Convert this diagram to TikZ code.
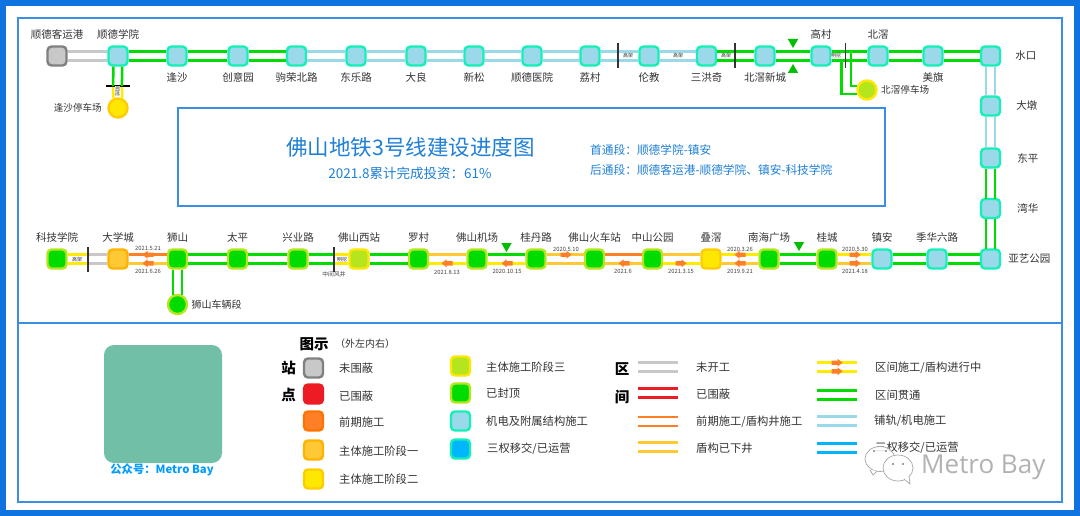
\documentclass[tikz,border=0pt]{standalone}
\usepackage{fontspec}
\setmainfont{Noto Sans CJK SC}
\newfontfamily\markfont{Open Sans}
\usepackage{tikz}
\usetikzlibrary{shapes.geometric}
\definecolor{frameblue}{HTML}{0F73E0}
\definecolor{boxblue}{HTML}{3A8EE6}
\definecolor{titleblue}{HTML}{1E80D6}
\definecolor{lnGrey}{HTML}{C8C8C8}
\definecolor{lnRed}{HTML}{ED1C24}
\definecolor{lnOrange}{HTML}{FF7F27}
\definecolor{lnAmber}{HTML}{FFC935}
\definecolor{lnYellow}{HTML}{FFEA00}
\definecolor{lnGreen}{HTML}{00DC00}
\definecolor{lnPale}{HTML}{99D9EA}
\definecolor{lnSky}{HTML}{00B7FF}
\definecolor{rimMint}{HTML}{14F0B8}
\definecolor{rimLime}{HTML}{B5E61D}
\definecolor{codeBox}{HTML}{72BFA8}
\tikzset{
  stn/.style={draw, rounded corners=4pt, line width=2.4pt, minimum size=19pt, inner sep=0pt},
  stGrey/.style={stn, fill=lnGrey, draw=black!50},
  stRed/.style={stn, fill=lnRed, draw=lnRed},
  stOrange/.style={stn, fill=lnOrange, draw=orange!90!red},
  stAmber/.style={stn, fill=lnAmber, draw=orange!60!yellow},
  stYellow/.style={stn, fill=yellow!95!red, draw=orange!40!yellow},
  stLime/.style={stn, fill=rimLime, draw=yellow!95!red},
  stGreen/.style={stn, fill=lnGreen, draw=rimLime},
  stPale/.style={stn, fill=lnPale, draw=rimMint},
  stSky/.style={stn, fill=lnSky, draw=rimMint},
  depot/.style={circle, draw, line width=2.4pt, minimum size=19pt, inner sep=0pt},
  every label/.style={font=\fontsize{10.5}{12}\selectfont, text=black!80, inner sep=0pt},
  label distance=6pt,
  lgtext/.style={font=\fontsize{11.3}{13}\selectfont, text=black!80, inner sep=0pt, anchor=west},
  head/.style={font=\fontsize{14.5}{16}\selectfont\bfseries, inner sep=0pt},
  datum/.style={font=\fontsize{5.8}{7}\selectfont, text=black!75, inner sep=0pt},
  mini/.style={font=\fontsize{5}{6}\selectfont, text=black!80, fill=white, inner sep=.5pt},
  minirot/.style={mini, rotate=-90},
  pipe/.style={line width=2.5pt},
  cutbar/.style={fill=black!80, inner sep=0pt, minimum width=1.5pt, minimum height=25pt},
  cutflat/.style={fill=black, inner sep=0pt, minimum width=24pt, minimum height=1.5pt},
  marker/.style={regular polygon, regular polygon sides=3, fill=green!75!black, inner sep=0pt, minimum size=12pt},
  markerD/.style={marker, shape border rotate=180},
}
\def\hpair#1#2#3#4{
  \draw[pipe,#1,transform canvas={yshift=4.3pt}] (#3) -- (#4);
  \draw[pipe,#2,transform canvas={yshift=-4.3pt}] (#3) -- (#4);}
\def\vpair#1#2#3{
  \draw[pipe,#1,shorten >=-1pt,transform canvas={xshift=-4.4pt}] (#2) -- (#3);
  \draw[pipe,#1,shorten >=-1pt,transform canvas={xshift=4.4pt}] (#2) -- (#3);}
\def\sample#1#2#3#4{
  \coordinate (#1a) at (#3,#4);
  \coordinate (#1b) at (#3+40,#4);
  \hpair{#2}{#2}{#1a}{#1b}}
% direction (1 right, -1 left), then x and y
\def\shield#1#2#3{
  \fill[lnOrange, shift={(#2,#3)}, xscale=#1] (-5.5,-2.2) -- (0.5,-2.2) -- (0.5,-4) -- (5.5,0)
    -- (0.5,4) -- (0.5,2.2) -- (-5.5,2.2) -- cycle;}
\begin{document}
\begin{tikzpicture}[x=1pt,y=-1pt]
\useasboundingbox (0,0) rectangle (1080,516);
\fill[white] (0,0) rectangle (1080,516);
\draw[frameblue, line width=6pt] (3,3) rectangle (1077,513);
\draw[boxblue, line width=1.4pt] (18,18) rectangle (1062,502);
\draw[boxblue, line width=1.4pt] (18,323) -- (1062,323);
\draw[boxblue, line width=1.4pt] (178,108) rectangle (885,206);

% title box
\node[font=\fontsize{21.5}{24}\selectfont, text=titleblue, inner sep=0pt] (title) at (410.5,147) {佛山地铁3号线建设进度图};
\node[font=\fontsize{13.5}{15}\selectfont, text=titleblue, inner sep=0pt] (invest) at (410,173) {2021.8累计完成投资：61\%};
\node[font=\fontsize{11.7}{13}\selectfont, text=titleblue, inner sep=0pt, anchor=west] (first) at (590,150) {首通段：顺德学院-镇安};
\node[font=\fontsize{11.7}{13}\selectfont, text=titleblue, inner sep=0pt, anchor=west] (later) at (590,170) {后通段：顺德客运港-顺德学院、镇安-科技学院};

% upper row
\node[stGrey, label=above:顺德客运港] (kyg) at (57,56) {};
\node[stPale, label=above:顺德学院] (sdxy) at (118,56) {};
\node[stPale, label=below:逢沙] (fs) at (177,56) {};
\node[stPale, label=below:创意园] (cyy) at (238,56) {};
\node[stPale, label=below:驹荣北路] (jrbl) at (296.5,56) {};
\node[stPale, label=below:东乐路] (dll) at (356,56) {};
\node[stPale, label=below:大良] (dl) at (416,56) {};
\node[stPale, label=below:新松] (xs) at (474,56) {};
\node[stPale, label=below:顺德医院] (sdyy) at (532,56) {};
\node[stPale, label=below:荔村] (lc) at (590,56) {};
\node[stPale, label=below:伦教] (lj) at (649,56) {};
\node[stPale, label=below:三洪奇] (shq) at (706.5,56) {};
\node[stPale, label=below:北滘新城] (bjxc) at (765,56) {};
\node[stPale, label=above:高村] (gc) at (821,56) {};
\node[stPale, label=above:北滘] (bj) at (878,56) {};
\node[stPale, label=below:美旗] (mq) at (933,56) {};

% right column
\node[stPale, label={[label distance=14pt]right:水口}] (sk) at (990.5,56) {};
\node[stPale, label={[label distance=15pt]right:大墩}] (dd) at (990.5,106) {};
\node[stPale, label={[label distance=16pt]right:东平}] (dp) at (990.5,158) {};
\node[stPale, label={[label distance=16pt]right:湾华}] (wh) at (990.5,208.5) {};
\node[stPale, label={[label distance=7pt]right:亚艺公园}] (yy) at (990.5,259) {};

% lower row
\node[stPale, label=above:季华六路] (jh) at (937,259) {};
\node[stPale, label=above:镇安] (za) at (882,259) {};
\node[stGreen, label=above:桂城] (gcc) at (827,259) {};
\node[stGreen, label=above:南海广场] (nh) at (769,259) {};
\node[stYellow, label=above:叠滘] (dj) at (711,259) {};
\node[stGreen, label=above:中山公园] (zs) at (652.5,259) {};
\node[stGreen, label=above:佛山火车站] (hcz) at (594.5,259) {};
\node[stGreen, label=above:桂丹路] (gdl) at (536,259) {};
\node[stGreen, label=above:佛山机场] (jc) at (477,259) {};
\node[stGreen, label=above:罗村] (lcc) at (418.5,259) {};
\node[stLime, label=above:佛山西站] (fsxz) at (359,259) {};
\node[stGreen, label=above:兴业路] (xyl) at (298,259) {};
\node[stGreen, label=above:太平] (tp) at (237.5,259) {};
\node[stGreen, label=above:狮山] (ss) at (177.5,259) {};
\node[stAmber, label=above:大学城] (dxc) at (118,259) {};
\node[stGreen, label=above:科技学院] (kj) at (57,259) {};

% depots
\node[depot, fill=yellow!95!red, draw=orange!40!yellow] (fstc) at (118,108) {};
\node[depot, fill=rimLime, draw=yellow!95!red] (bjtc) at (867,90) {};
\node[depot, fill=lnGreen, draw=rimLime] (sscl) at (177.5,304.5) {};
\node[font=\fontsize{9.6}{11}\selectfont, text=black!80, inner sep=0pt, anchor=east] (fstct) at (102,108) {逢沙停车场};
\node[font=\fontsize{9.6}{11}\selectfont, text=black!80, inner sep=0pt, anchor=west] (bjtct) at (881,90) {北滘停车场};
\node[font=\fontsize{10}{12}\selectfont, text=black!80, inner sep=0pt, anchor=west] (ssclt) at (191.5,305) {狮山车辆段};

% cuts next to a change of section
\node[cutflat] (cut6) at (117.5,86) {};
\node[cutbar] (cut4) at (88,259) {};
\node[cutbar] (cut5) at (334,259) {};

% sections, upper row
\hpair{lnGrey}{lnGrey}{kyg}{sdxy}
\hpair{lnGreen}{lnGreen}{sdxy}{fs}
\hpair{lnGreen}{lnGreen}{fs}{cyy}
\hpair{lnGreen}{lnGreen}{cyy}{jrbl}
\hpair{lnPale}{lnPale}{jrbl}{dll}
\hpair{lnPale}{lnPale}{dll}{dl}
\hpair{lnPale}{lnPale}{dl}{xs}
\hpair{lnPale}{lnPale}{xs}{sdyy}
\hpair{lnPale}{lnPale}{sdyy}{lc}
\hpair{lnPale}{lnPale}{lc}{lj}
\hpair{lnPale}{lnPale}{lj}{shq}
\hpair{lnGreen}{lnGreen}{shq}{bjxc}
\hpair{lnGreen}{lnGreen}{bjxc}{gc}
\hpair{lnGreen}{lnGreen}{gc}{bj}
\hpair{lnGreen}{lnGreen}{bj}{mq}
\hpair{lnGreen}{lnGreen}{mq}{sk}

% sections, right column
\vpair{lnPale}{sk}{dd}
\vpair{lnPale}{dd}{dp}
\vpair{lnGreen}{dp}{wh}
\vpair{lnGreen}{wh}{yy}

% sections, lower row
\hpair{lnGreen}{lnGreen}{yy}{jh}
\hpair{lnGreen}{lnGreen}{jh}{za}
\hpair{lnYellow}{lnAmber}{za}{gcc}
\hpair{lnGreen}{lnGreen}{gcc}{nh}
\hpair{lnYellow}{lnAmber}{nh}{dj}
\hpair{lnAmber}{lnYellow}{dj}{zs}
\hpair{lnOrange}{lnAmber}{zs}{hcz}
\hpair{lnAmber}{lnAmber}{hcz}{gdl}
\hpair{lnGreen}{lnYellow}{gdl}{jc}
\hpair{lnAmber}{lnYellow}{jc}{lcc}
\hpair{lnGreen}{lnGreen}{lcc}{fsxz}
\hpair{lnYellow}{lnYellow}{fsxz}{cut5}
\hpair{lnGreen}{lnGreen}{cut5}{xyl}
\hpair{lnGreen}{lnGreen}{xyl}{tp}
\hpair{lnGreen}{lnGreen}{tp}{ss}
\hpair{lnOrange}{lnAmber}{ss}{dxc}
\hpair{lnGrey}{lnGrey}{dxc}{cut4}
\hpair{lnYellow}{lnYellow}{cut4}{kj}

% branches
\vpair{lnGreen}{sdxy}{cut6}
\vpair{lnYellow}{cut6}{fstc}
\vpair{lnGreen}{ss}{sscl}
\coordinate (bjup) at (851,52);
\coordinate (bjlo) at (841.5,60);
\draw[pipe, lnGreen, shorten >=-1pt] (bjup) |- ([yshift=4pt]bjtc.west);
\draw[pipe, lnGreen, shorten >=-1pt] (bjlo) |- ([yshift=-4pt]bjtc.west);

% cuts over the lines
\node[cutbar] (cut1) at (618,56) {};
\node[cutbar] (cut2) at (735,56) {};
\node[cutbar] (cut3) at (845.5,56) {};

% small tags
\node[mini] (tag1) at (628,56) {高架};
\node[mini] (tag2) at (678,56) {高架};
\node[mini] (tag3) at (726,56) {高架};
\node[mini] (tag4) at (836,56) {明挖};
\node[mini] (tag5) at (77,259.5) {高架};
\node[mini] (tag6) at (342,259.5) {明挖};
\node[minirot] (tag7) at (117.5,91.5) {明挖};
\node[datum] (wind) at (334,274.5) {中间风井};

% shields
\shield{-1}{148}{254.7}
\shield{-1}{148}{263.3}
\shield{-1}{447}{263.3}
\shield{-1}{507}{263.3}
\shield{1}{566}{254.7}
\shield{-1}{624}{263.3}
\shield{1}{681}{263.3}
\shield{-1}{740}{254.7}
\shield{-1}{740}{263.3}
\shield{1}{855}{254.7}
\shield{1}{855}{263.3}

% dates
\node[datum] (d1) at (148,248) {2021.5.21};
\node[datum] (d2) at (148,271) {2021.6.26};
\node[datum] (d3) at (447,272) {2021.8.13};
\node[datum] (d4) at (507,271.5) {2020.10.15};
\node[datum] (d5) at (566,249) {2020.5.10};
\node[datum] (d6) at (623,271.5) {2021.6};
\node[datum] (d7) at (681,271.5) {2021.3.15};
\node[datum] (d8) at (740,249) {2020.3.26};
\node[datum] (d9) at (740,271) {2019.9.21};
\node[datum] (d10) at (855,249) {2020.5.30};
\node[datum] (d11) at (855,271) {2021.4.18};

% markers
\node[markerD] (mk1) at (793,42) {};
\node[marker] (mk2) at (793,70) {};
\node[markerD] (mk3) at (506.5,246) {};
\node[markerD] (mk4) at (799,245) {};

% legend, left
\fill[codeBox, rounded corners=10pt] (104,345) rectangle (222,463);
\node[font=\fontsize{11.3}{13}\selectfont\bfseries, text=lnSky!85!blue, inner sep=0pt] (gzh) at (162,470) {公众号：Metro Bay};
\node[head] (lgt) at (314,344) {图示};
\node[font=\fontsize{10}{12}\selectfont, text=black!80, inner sep=0pt, anchor=west] (lgtb) at (335,344) {（外左内右）};
\node[head] (zhan) at (288.5,368) {站};
\node[head] (dian) at (288.5,395) {点};
\node[stGrey] (a1) at (313.5,368) {};
\node[stRed] (a2) at (313.5,394) {};
\node[stOrange] (a3) at (313.5,421) {};
\node[stAmber] (a4) at (313.5,450) {};
\node[stYellow] (a5) at (313.5,479) {};
\node[lgtext] (a1t) at (339,368) {未围蔽};
\node[lgtext] (a2t) at (339,396) {已围蔽};
\node[lgtext] (a3t) at (339,422) {前期施工};
\node[lgtext] (a4t) at (339,451) {主体施工阶段一};
\node[lgtext] (a5t) at (339,479) {主体施工阶段二};
\node[stLime] (b1) at (460.5,366) {};
\node[stGreen] (b2) at (460.5,393) {};
\node[stPale] (b3) at (460.5,421) {};
\node[stSky] (b4) at (460.5,449) {};
\node[lgtext] (b1t) at (486,367) {主体施工阶段三};
\node[lgtext] (b2t) at (486,393) {已封顶};
\node[lgtext] (b3t) at (486,421) {机电及附属结构施工};
\node[lgtext] (b4t) at (487,449) {三权移交/已运营};

% legend, right
\node[head] (qu) at (622,369) {区};
\node[head] (jian) at (622,397) {间};
\sample{c1}{lnGrey}{638}{367}
\sample{c2}{lnRed}{638}{393}
\sample{c3}{lnOrange}{638}{421.5}
\sample{c4}{lnAmber}{638}{447}
\node[lgtext] (c1t) at (696,367) {未开工};
\node[lgtext] (c2t) at (696,394) {已围蔽};
\node[lgtext] (c3t) at (696,422) {前期施工/盾构井施工};
\node[lgtext] (c4t) at (696,448) {盾构已下井};
\sample{e1}{lnYellow}{817}{367}
\sample{e2}{lnGreen}{817}{395}
\sample{e3}{lnPale}{817}{421}
\sample{e4}{lnSky}{817}{448}
\shield{1}{837}{362.7}
\shield{1}{837}{371.3}
\node[lgtext] (e1t) at (875,368) {区间施工/盾构进行中};
\node[lgtext] (e2t) at (875,395) {区间贯通};
\node[lgtext] (e3t) at (874,421) {铺轨/机电施工};
\node[lgtext] (e4t) at (875,448) {三权移交/已运营};

% watermark
\draw[black!35, fill=white, fill opacity=.85, line width=.7pt] (880,459) ellipse (15 and 12.5);
\draw[black!35, fill=white, fill opacity=.85, line width=.7pt] (870,470) -- (873,475) -- (877,471);
\draw[black!35, fill=white, fill opacity=.9, line width=.7pt] (898,468) ellipse (15 and 13);
\draw[black!35, fill=white, line width=.7pt] (904,479) -- (910,484) -- (909,476);
\fill[black!50] (874,451) circle (1.2) (886,451) circle (1.2) (893,464) circle (1.2) (903,464) circle (1.2);
\node[font=\fontsize{26}{30}\markfont, text=black!30, inner sep=0pt, anchor=west] (mb) at (921,467) {Metro Bay};
\end{tikzpicture}
\end{document}
